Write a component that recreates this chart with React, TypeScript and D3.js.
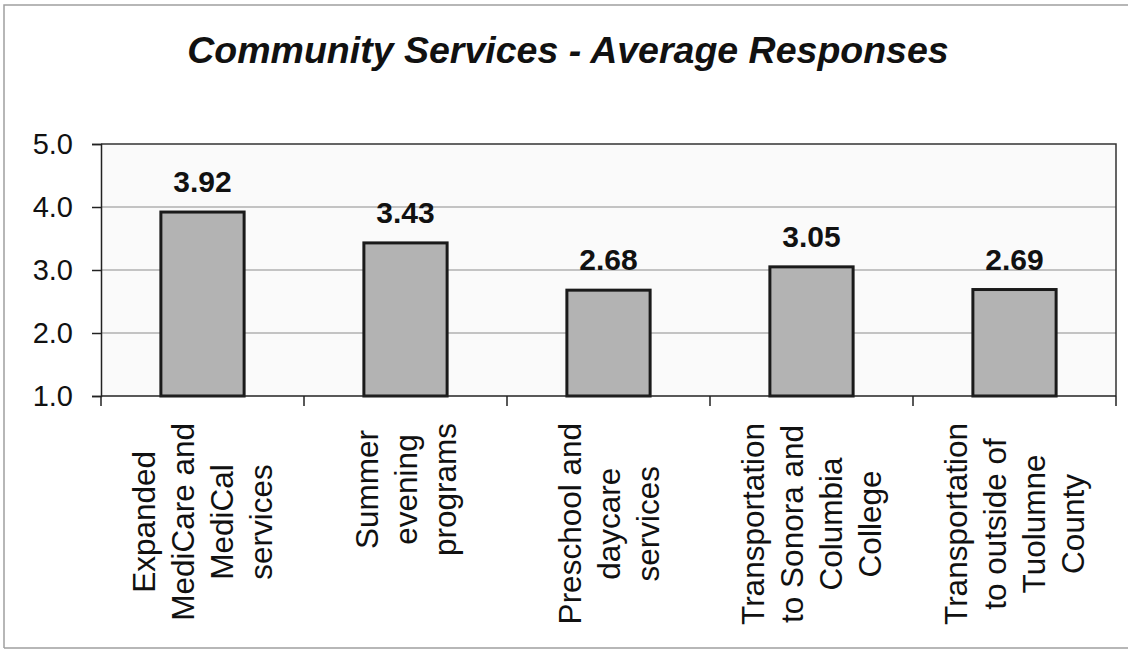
import React, { useEffect, useRef } from "react";
import * as d3 from "d3";

const categories: string[][] = [
  ["Expanded", "MediCare and", "MediCal", "services"],
  ["Summer", "evening", "programs"],
  ["Preschool and", "daycare", "services"],
  ["Transportation", "to Sonora and", "Columbia", "College"],
  ["Transportation", "to outside of", "Tuolumne", "County"],
];
const values: number[] = [3.92, 3.43, 2.68, 3.05, 2.69];
const yTicks: number[] = [1, 2, 3, 4, 5];
const title = "Community Services - Average Responses";

const W = 1129;
const H = 652;
const FONT = "'Liberation Sans', Arial, Helvetica, sans-serif";

export default function App() {
  const ref = useRef<SVGSVGElement | null>(null);

  useEffect(() => {
    const svg = d3.select(ref.current);
    svg.selectAll("*").remove();

    const plot = { left: 101, right: 1116, top: 144, bottom: 396 };
    const ids = categories.map((_, i) => String(i));
    const x = d3.scaleBand<string>().domain(ids).range([plot.left, plot.right]).paddingInner(0.59).paddingOuter(0.295);
    const xb = d3.scaleBand<string>().domain(ids).range([plot.left, plot.right]);
    const y = d3.scaleLinear().domain([1, 5]).range([plot.bottom, plot.top]);

    svg.append("rect").attr("width", W).attr("height", H).attr("fill", "#ffffff");

    // outer frame
    svg.append("path")
      .attr("d", `M4,${H - 4} L4,5 L${W - 1},5 M4,${H - 4} L${W - 1},${H - 4}`)
      .attr("fill", "none").attr("stroke", "#a0a0a0").attr("stroke-width", 1.5);

    // title
    svg.append("text")
      .attr("x", 568).attr("y", 63)
      .attr("text-anchor", "middle")
      .attr("font-family", FONT).attr("font-size", 37.5)
      .attr("font-weight", "bold").attr("font-style", "italic")
      .attr("fill", "#111")
      .text(title);

    // plot background
    svg.append("rect")
      .attr("x", plot.left).attr("y", plot.top)
      .attr("width", plot.right - plot.left).attr("height", plot.bottom - plot.top)
      .attr("fill", "#fafafa");

    // gridlines
    svg.append("g").selectAll("line").data(yTicks.filter(t => t > 1 && t < 5)).join("line")
      .attr("x1", plot.left).attr("x2", plot.right)
      .attr("y1", d => y(d)).attr("y2", d => y(d))
      .attr("stroke", "#8c8c8c").attr("stroke-width", 1);

    // plot border top / right
    svg.append("path")
      .attr("d", `M${plot.left},${plot.top} L${plot.right},${plot.top} L${plot.right},${plot.bottom}`)
      .attr("fill", "none").attr("stroke", "#333").attr("stroke-width", 1.5);

    // bars
    svg.append("g").selectAll("rect").data(values).join("rect")
      .attr("x", (_, i) => x(String(i))!)
      .attr("width", x.bandwidth())
      .attr("y", d => y(d))
      .attr("height", d => y(1) - y(d))
      .attr("fill", "#b3b3b3")
      .attr("stroke", "#1a1a1a").attr("stroke-width", 3);

    // value labels
    svg.append("g").selectAll("text").data(values).join("text")
      .attr("x", (_, i) => x(String(i))! + x.bandwidth() / 2)
      .attr("y", d => y(d) - 20)
      .attr("text-anchor", "middle")
      .attr("font-family", FONT).attr("font-size", 30).attr("font-weight", "bold")
      .attr("fill", "#111")
      .text(d => d.toFixed(2));

    // y axis
    const yAxis = svg.append("g").attr("transform", `translate(${plot.left},0)`)
      .call(d3.axisLeft(y).tickValues(yTicks).tickSize(9).tickPadding(19).tickFormat(d => (d as number).toFixed(1)));
    yAxis.select(".domain").attr("stroke", "#222").attr("stroke-width", 1.5);
    yAxis.selectAll(".tick line").attr("stroke", "#222").attr("stroke-width", 1.5);
    yAxis.selectAll(".tick text").attr("font-family", FONT).attr("font-size", 29).attr("fill", "#111");

    // x axis line and ticks at band boundaries
    svg.append("line")
      .attr("x1", plot.left).attr("x2", plot.right)
      .attr("y1", plot.bottom).attr("y2", plot.bottom)
      .attr("stroke", "#222").attr("stroke-width", 1.5);
    const bounds = ids.map(id => xb(id)!).concat([plot.right]);
    svg.append("g").selectAll("line").data(bounds).join("line")
      .attr("x1", d => d).attr("x2", d => d)
      .attr("y1", plot.bottom).attr("y2", plot.bottom + 10)
      .attr("stroke", "#222").attr("stroke-width", 1.5);

    // category labels, rotated
    const labelTop = 423;
    const lineGap = 39;
    categories.forEach((lines, i) => {
      const cx = xb(String(i))! + xb.bandwidth() / 2;
      const g = svg.append("g");
      const texts = lines.map((ln, j) => {
        const lx = cx + (j - (lines.length - 1) / 2) * lineGap;
        return g.append("text")
          .attr("font-family", FONT).attr("font-size", 31.5)
          .attr("fill", "#111")
          .attr("text-anchor", "middle")
          .attr("dy", "0.35em")
          .attr("data-x", lx)
          .text(ln);
      });
      let maxLen = 0;
      texts.forEach(t => {
        const n = (t.node() as SVGTextElement).getComputedTextLength();
        if (n > maxLen) maxLen = n;
      });
      const cy = labelTop + maxLen / 2;
      texts.forEach(t => {
        const lx = +t.attr("data-x");
        t.attr("transform", `translate(${lx},${cy}) rotate(-90)`);
      });
    });
  }, []);

  return (
    <svg
      ref={ref}
      width={W}
      height={H}
      style={{ position: "absolute", left: 0, top: 0, display: "block" }}
    />
  );
}
